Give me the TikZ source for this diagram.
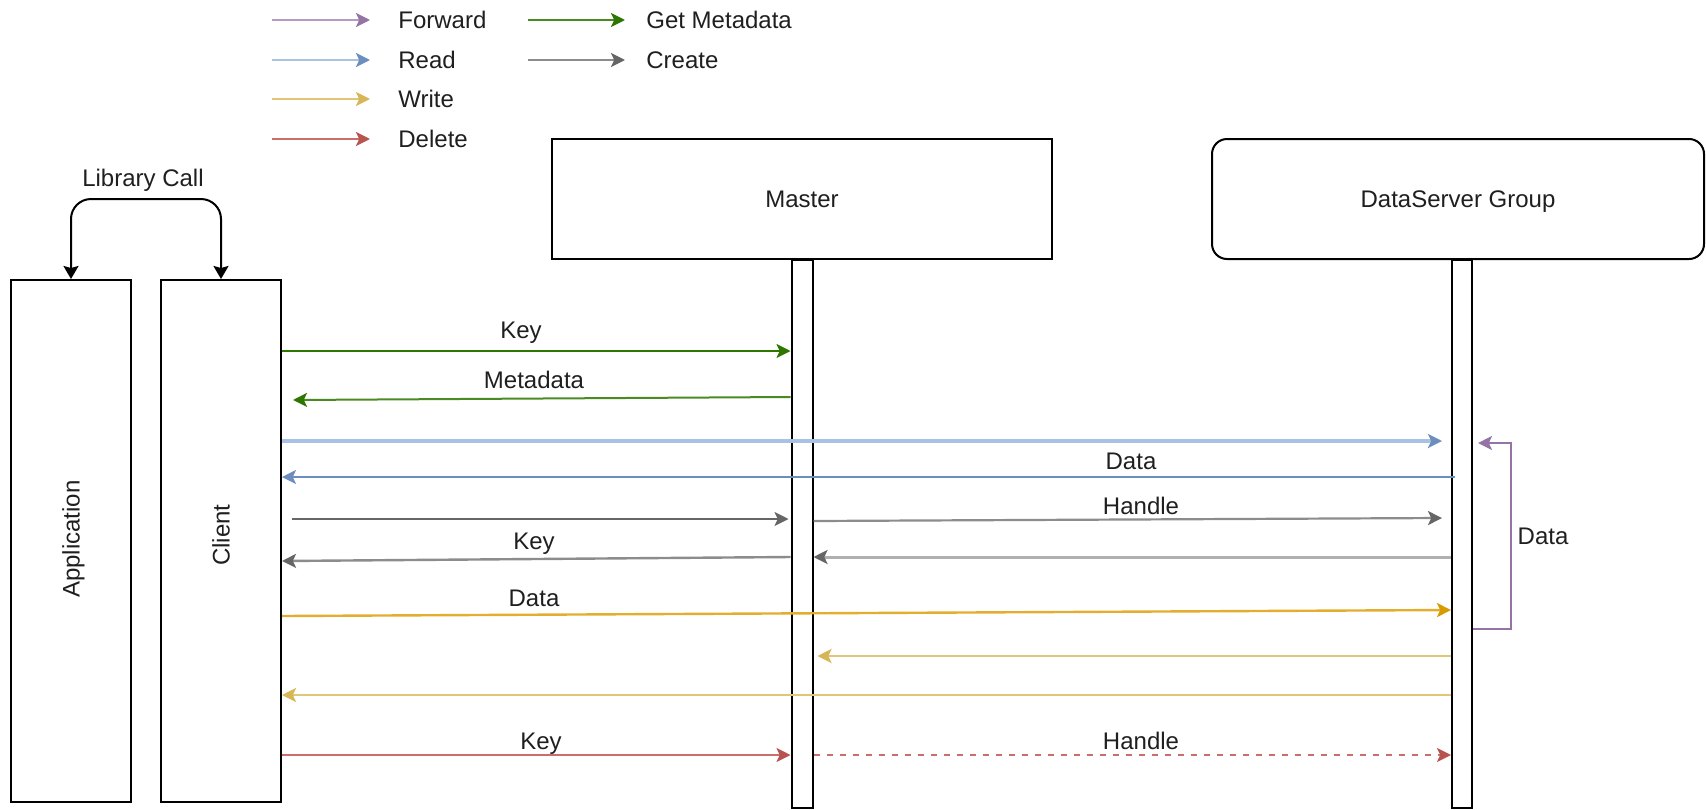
\documentclass[tikz,border=0pt]{standalone}
\usepackage{fontspec}
\setmainfont{Liberation Sans}
\usetikzlibrary{arrows.meta,calc}

\definecolor{txt}{HTML}{1F1F1F}
\definecolor{fwd}{HTML}{9673A6}
\definecolor{fwdL}{HTML}{B29BC4}
\definecolor{rdH}{HTML}{6C8EBF}
\definecolor{rdL}{HTML}{A9C1E2}
\definecolor{wrH}{HTML}{D6B656}
\definecolor{wrL}{HTML}{E2C677}
\definecolor{orH}{HTML}{D79B00}
\definecolor{orL}{HTML}{E3AE2E}
\definecolor{dlH}{HTML}{B85450}
\definecolor{dlL}{HTML}{C96E6A}
\definecolor{gmH}{HTML}{2D7600}
\definecolor{gmL}{HTML}{4A8A22}
\definecolor{crH}{HTML}{666666}
\definecolor{crL}{HTML}{8C8C8C}
\definecolor{crLL}{HTML}{B0B0B0}

\tikzset{
  box/.style={draw=black, line width=1pt, fill=white, inner sep=0pt},
  lbl/.style={text=txt, inner sep=0pt, text height=8.6pt, text depth=0pt,
    font=\fontsize{12}{14}\selectfont},
  msg/.style 2 args={draw=#1, line width=1pt,
    -{Stealth[length=7pt,width=7pt,inset=1.6pt,color=#2]}},
  callarrow/.style={draw=black, line width=1pt, rounded corners=10pt,
    {Stealth[length=6.5pt,width=7.5pt,inset=1pt]}-{Stealth[length=6.5pt,width=7.5pt,inset=1pt]}},
}

\begin{document}
\begin{tikzpicture}[x=0.5pt,y=-0.5pt]
\useasboundingbox (0,0) rectangle (1706,809);

% ---------- legend ----------
\node[lbl, anchor=west] (lgF) at (398,20) {Forward};
\node[lbl, anchor=west] (lgR) at (398,60) {Read};
\node[lbl, anchor=west] (lgW) at (398,99) {Write};
\node[lbl, anchor=west] (lgD) at (398,139) {Delete};
\node[lbl, anchor=west] (lgG) at (646,20) {Get Metadata};
\node[lbl, anchor=west] (lgC) at (646,60) {Create};
\draw[msg={fwdL}{fwd}, line width=1.2pt] ($(lgF.west)+(-126,0)$) -- ($(lgF.west)+(-28,0)$);
\draw[msg={rdL}{rdH}, line width=1.2pt]  ($(lgR.west)+(-126,0)$) -- ($(lgR.west)+(-28,0)$);
\draw[msg={wrL}{wrH}, line width=1.2pt]  ($(lgW.west)+(-126,0)$) -- ($(lgW.west)+(-28,0)$);
\draw[msg={dlL}{dlH}, line width=1.2pt]  ($(lgD.west)+(-126,0)$) -- ($(lgD.west)+(-28,0)$);
\draw[msg={gmL}{gmH}, line width=1.2pt]  ($(lgG.west)+(-118,0)$) -- ($(lgG.west)+(-21,0)$);
\draw[msg={crL}{crH}, line width=1.2pt]  ($(lgC.west)+(-118,0)$) -- ($(lgC.west)+(-21,0)$);

% ---------- participants ----------
\node[box, minimum width=60pt, minimum height=261pt] (app) at (71,541) {};
\node[lbl, rotate=90] (appT) at ([yshift=1pt]app.center) {Application};
\node[box, minimum width=60pt, minimum height=261pt] (client) at (221,541) {};
\node[lbl, rotate=90] (clientT) at ([yshift=3pt]client.center) {Client};

\node[box, minimum width=10.5pt, minimum height=274pt, anchor=north] (mline) at (802,259) {};
\node[box, minimum width=250pt, minimum height=60pt] (master) at (802,199) {};
\node[lbl] (masterT) at (master.center) {Master};

\node[box, minimum width=10pt, minimum height=274pt, anchor=north] (dline) at (1462,259) {};
\node[box, rounded corners=7.5pt, minimum width=246pt, minimum height=60pt] (ds) at (1458,199) {};
\node[lbl] (dsT) at (ds.center) {DataServer Group};

% ---------- library call ----------
\coordinate (lc) at (0,199);
\node[lbl] (lcT) at (143,178) {Library Call};
\draw[callarrow] (app.north) -- (app.north |- lc) -- (client.north |- lc) -- (client.north);

% ---------- message levels ----------
\coordinate (y1)  at (0,351);
\coordinate (y2a) at (0,397);
\coordinate (y2b) at (0,400);
\coordinate (y3)  at (0,441);
\coordinate (y4)  at (0,477);
\coordinate (y5)  at (0,519);
\coordinate (y6a) at (0,521);
\coordinate (y6b) at (0,518);
\coordinate (y7)  at (0,557);
\coordinate (y8)  at (0,561);
\coordinate (y9a) at (0,616);
\coordinate (y9b) at (0,610);
\coordinate (y10) at (0,656);
\coordinate (y11) at (0,695);
\coordinate (y12) at (0,755);
\coordinate (yFt) at (0,443);
\coordinate (yFb) at (0,629);
\coordinate (fwdR) at (1511,0);

% get metadata
\draw[msg={gmH}{gmH}] (client.east |- y1) -- (mline.west |- y1);
\node[lbl] (t1) at (521,330) {Key};
\draw[msg={gmL}{gmH}] (mline.west |- y2a) -- ($(client.east |- y2b)+(11,0)$);
\node[lbl] (t2) at (534,380) {Metadata};

% read
\draw[msg={rdL}{rdH}, line width=1.6pt] (client.east |- y3) -- ($(dline.west |- y3)+(-9,0)$);
\draw[msg={rdH}{rdH}, line width=0.8pt] ($(dline.west |- y4)+(4,0)$) -- (client.east |- y4);
\node[lbl] (t4) at (1131,461) {Data};

% create
\draw[msg={crH}{crH}, line width=0.9pt] ($(client.east |- y5)+(10,0)$) -- ($(mline.west |- y5)+(-2,0)$);
\draw[msg={crL}{crH}, line width=1.1pt] (mline.east |- y6a) -- ($(dline.west |- y6b)+(-9,0)$);
\node[lbl] (t6) at (1141,506) {Handle};
\draw[msg={crLL}{crH}, line width=1.5pt] (dline.west |- y7) -- (mline.east |- y7);
\draw[msg={crL}{crH}, line width=1.2pt] (mline.west |- y7) -- (client.east |- y8);
\node[lbl] (t8) at (534,541) {Key};

% write
\draw[msg={orL}{orH}, line width=1.2pt] (client.east |- y9a) -- (dline.west |- y9b);
\node[lbl] (t9) at (534,598) {Data};
\draw[msg={wrL}{wrH}, line width=1.3pt] (dline.west |- y10) -- ($(mline.east |- y10)+(4,0)$);
\draw[msg={wrL}{wrH}, line width=1.3pt] (dline.west |- y11) -- (client.east |- y11);

% forward
\draw[draw=fwd, line width=0.9pt, -{Stealth[length=7pt,width=7pt,inset=1.6pt,color=fwd]}]
  (dline.east |- yFb) -- (fwdR |- yFb) -- (fwdR |- yFt) -- ($(dline.east |- yFt)+(5,0)$);
\node[lbl] (tF) at (1543,536) {Data};

% delete
\draw[msg={dlL}{dlH}, line width=1.1pt] (client.east |- y12) -- (mline.west |- y12);
\node[lbl] (t12) at (541,741) {Key};
\draw[msg={dlL}{dlH}, line width=1.1pt, dash pattern=on 3pt off 3.5pt] (mline.east |- y12) -- (dline.west |- y12);
\node[lbl] (t13) at (1141,741) {Handle};

\end{tikzpicture}
\end{document}
